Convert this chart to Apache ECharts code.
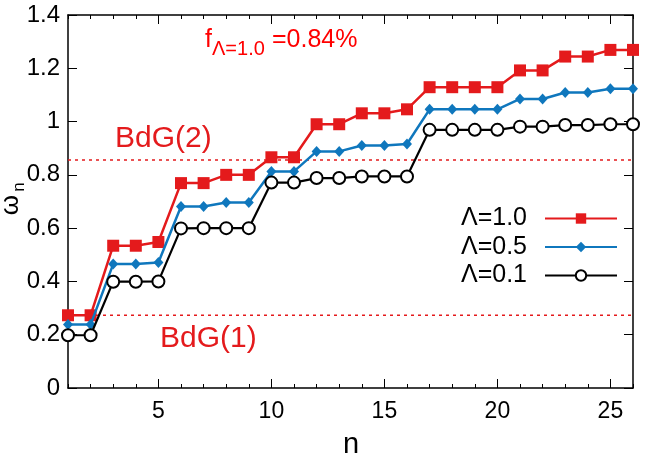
<!DOCTYPE html>
<html>
<head>
<meta charset="utf-8">
<script src="https://cdn.jsdelivr.net/npm/echarts@6/dist/echarts.min.js"></script>
<style>html,body{margin:0;padding:0;background:#fff}#c{width:656px;height:459px}</style>
</head>
<body>
<div id="c"></div>
<script>
var nVals = [1,2,3,4,5,6,7,8,9,10,11,12,13,14,15,16,17,18,19,20,21,22,23,24,25,26];
var lam10 = [0.273,0.273,0.534,0.534,0.548,0.769,0.769,0.800,0.800,0.866,0.866,0.990,0.990,1.031,1.031,1.046,1.129,1.129,1.129,1.129,1.192,1.192,1.244,1.244,1.269,1.269];
var lam05 = [0.238,0.238,0.465,0.465,0.471,0.681,0.681,0.696,0.696,0.813,0.813,0.888,0.888,0.910,0.910,0.916,1.046,1.046,1.046,1.046,1.085,1.085,1.109,1.109,1.123,1.123];
var lam01 = [0.198,0.198,0.399,0.399,0.400,0.599,0.600,0.600,0.600,0.771,0.771,0.788,0.788,0.794,0.794,0.794,0.969,0.969,0.969,0.969,0.981,0.981,0.987,0.987,0.990,0.990];
var bdgLevels = [0.273, 0.856];
var bdgNames = ['BdG(1)', 'BdG(2)'];
var seriesNames = ['\u039B=1.0', '\u039B=0.5', '\u039B=0.1'];
var xMajor = [5,10,15,20,25];
var xMin = 1, xMax = 26;

var FONT = 'Liberation Sans, Arial, Helvetica, sans-serif';
var RED = '#e41a1c', BLUE = '#0f77bd', BLACK = '#000000';

function zip(ys){ return nVals.map(function(n,i){ return [n, ys[i]]; }); }

function xAxisDef(pos, major, labels){
  return {
    type:'value', min:xMin, max:xMax, position:pos, gridIndex:0,
    axisLine:{show:major, lineStyle:{color:'#000', width:1.5}},
    axisTick:{show:true, inside:true, length: major?9:4, lineStyle:{color:'#000', width:1}, customValues: major ? xMajor : nVals},
    axisLabel:{show:labels, customValues: xMajor, fontSize:23, color:'#000', fontFamily:FONT, margin:12},
    splitLine:{show:false}
  };
}
function yAxisDef(pos, labels){
  return {
    type:'value', min:0, max:1.4, interval:0.2, position:pos, gridIndex:0,
    axisLine:{show:true, lineStyle:{color:'#000', width:1.5}},
    axisTick:{show:true, inside:true, length:9, lineStyle:{color:'#000', width:1}},
    axisLabel:{show:labels, fontSize:24, color:'#000', fontFamily:FONT, margin:8},
    splitLine:{show:false}
  };
}

var chart = echarts.init(document.getElementById('c'), null, {renderer:'canvas'});
var series = [
  {name:seriesNames[0], type:'line', data:zip(lam10), symbol:'rect', symbolSize:12,
   itemStyle:{color:RED}, lineStyle:{color:RED, width:2.5}, z:3},
  {name:seriesNames[1], type:'line', data:zip(lam05), symbol:'diamond', symbolSize:[10,11],
   itemStyle:{color:BLUE}, lineStyle:{color:BLUE, width:2.5}, z:4},
  {name:seriesNames[2], type:'line', data:zip(lam01), symbol:'emptyCircle', symbolSize:12,
   itemStyle:{color:BLACK, borderWidth:2}, lineStyle:{color:BLACK, width:2.2}, z:5}
];
bdgLevels.forEach(function(v, i){
  series.push({name:bdgNames[i], type:'line', data:[[xMin, v],[xMax, v]], symbol:'none',
    lineStyle:{color:RED, width:1.5, type:[3,4]}, z:2, silent:true});
});

chart.setOption({
  animation:false,
  grid:{left:68, right:23, top:15, bottom:71},
  xAxis:[xAxisDef('bottom', true, true), xAxisDef('bottom', false, false), xAxisDef('top', true, false), xAxisDef('top', false, false)],
  yAxis:[yAxisDef('left', true), yAxisDef('right', false)],
  legend:{
    data:seriesNames, orient:'vertical', right:33, top:201, align:'right',
    itemWidth:72, itemHeight:13, itemGap:3.5, selectedMode:false,
    textStyle:{fontSize:25, color:'#000', fontFamily:FONT, padding:[0,13,0,0]}
  },
  series:series,
  graphic:[
    {type:'text', x:205, y:40, style:{text:'f', fontSize:25, fill:'#ff0000', fontFamily:FONT, textAlign:'left', textVerticalAlign:'middle'}},
    {type:'text', x:212, y:49, style:{text:'\u039B=1.0', fontSize:20, fill:'#ff0000', fontFamily:FONT, textAlign:'left', textVerticalAlign:'middle'}},
    {type:'text', x:272, y:40, style:{text:'=0.84%', fontSize:25, fill:'#ff0000', fontFamily:FONT, textAlign:'left', textVerticalAlign:'middle'}},
    {type:'text', x:115, y:138.5, style:{text:bdgNames[1], fontSize:30, fill:RED, fontFamily:FONT, textAlign:'left', textVerticalAlign:'middle'}},
    {type:'text', x:160, y:339, style:{text:bdgNames[0], fontSize:30, fill:RED, fontFamily:FONT, textAlign:'left', textVerticalAlign:'middle'}},
    {type:'text', x:351, y:445, style:{text:'n', fontSize:29, fill:'#000', fontFamily:FONT, textAlign:'center', textVerticalAlign:'middle'}},
    {type:'text', x:11, y:205, rotation:Math.PI/2, style:{text:'\u03C9', fontSize:26, fill:'#000', fontFamily:FONT, textAlign:'center', textVerticalAlign:'middle'}},
    {type:'text', x:19, y:187, rotation:Math.PI/2, style:{text:'n', fontSize:17, fill:'#000', fontFamily:FONT, textAlign:'center', textVerticalAlign:'middle'}}
  ]
});
</script>
</body>
</html>
